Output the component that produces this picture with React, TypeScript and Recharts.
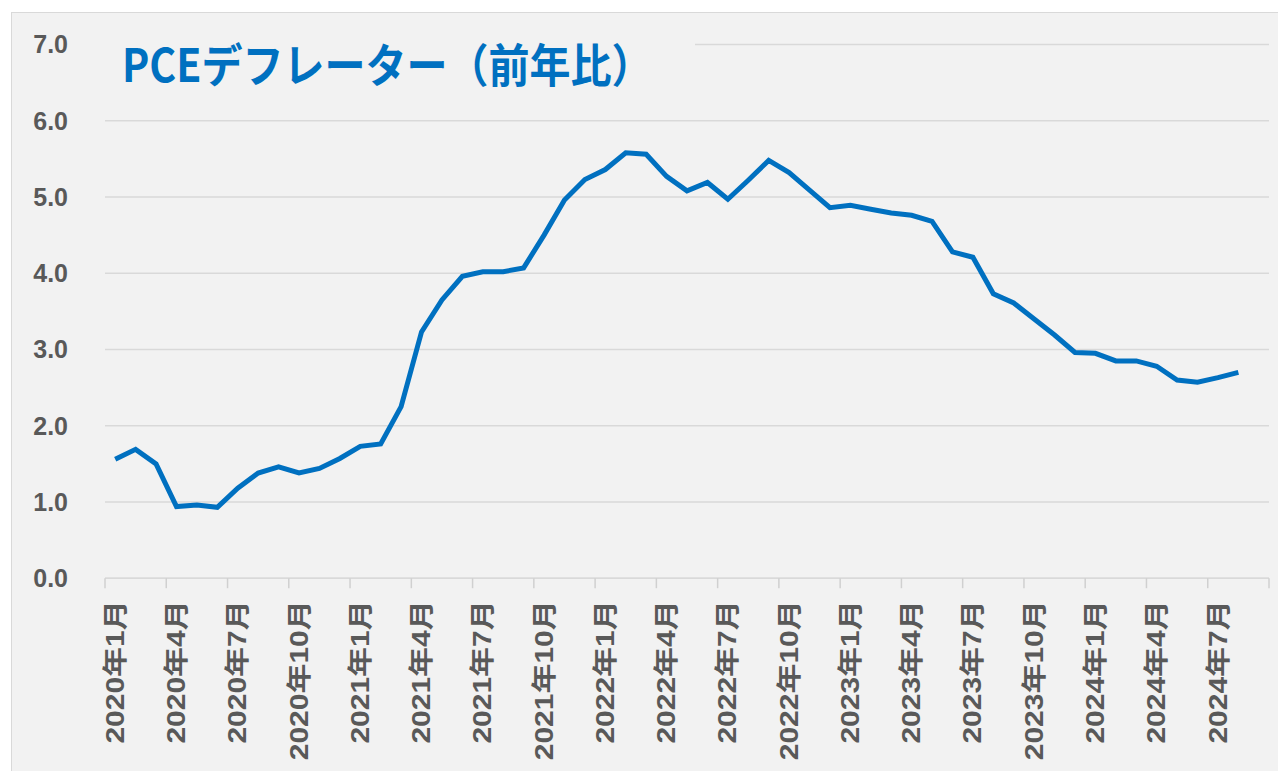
import React from "react";
import { LineChart, Line, XAxis, YAxis, CartesianGrid } from "recharts";

const months = [
  "2020年1月", "2020年2月", "2020年3月", "2020年4月", "2020年5月", "2020年6月",
  "2020年7月", "2020年8月", "2020年9月", "2020年10月", "2020年11月", "2020年12月",
  "2021年1月", "2021年2月", "2021年3月", "2021年4月", "2021年5月", "2021年6月",
  "2021年7月", "2021年8月", "2021年9月", "2021年10月", "2021年11月", "2021年12月",
  "2022年1月", "2022年2月", "2022年3月", "2022年4月", "2022年5月", "2022年6月",
  "2022年7月", "2022年8月", "2022年9月", "2022年10月", "2022年11月", "2022年12月",
  "2023年1月", "2023年2月", "2023年3月", "2023年4月", "2023年5月", "2023年6月",
  "2023年7月", "2023年8月", "2023年9月", "2023年10月", "2023年11月", "2023年12月",
  "2024年1月", "2024年2月", "2024年3月", "2024年4月", "2024年5月", "2024年6月",
  "2024年7月", "2024年8月", "2024年9月",
];

const pceYoY: (number | null)[] = [
  1.56, 1.69, 1.50, 0.94, 0.96, 0.93, 1.18, 1.38, 1.46, 1.38, 1.44, 1.57,
  1.73, 1.76, 2.25, 3.23, 3.65, 3.96, 4.02, 4.02, 4.07, 4.50, 4.96, 5.23,
  5.36, 5.58, 5.56, 5.27, 5.08, 5.19, 4.97, 5.22, 5.48, 5.32, 5.09, 4.86,
  4.89, 4.84, 4.79, 4.76, 4.68, 4.28, 4.21, 3.73, 3.61, 3.40, 3.19, 2.96,
  2.95, 2.85, 2.85, 2.78, 2.60, 2.57, 2.63, 2.70, null,
];

const yTicks = [0, 1, 2, 3, 4, 5, 6, 7];
const boundaryTicks = [0, 3, 6, 9, 12, 15, 18, 21, 24, 27, 30, 33, 36, 39, 42, 45, 48, 51, 54, 57];
const titleText = "PCEデフレーター（前年比）";

const data = months.map((m, i) => ({ x: i + 0.5, month: m, value: pceYoY[i] }));

const FONT = '"Liberation Sans", "Noto Sans CJK JP", sans-serif';

const MonthTick = (props: any) => {
  const { x, y, payload, width } = props;
  const idx = Math.round(payload.value);
  const halfBand = width / months.length / 2;
  const label = idx < months.length ? months[idx] : null;
  return (
    <g>
      <line x1={x} x2={x} y1={y} y2={y + 10} stroke="#d0d0d0" strokeWidth={1.5} />
      {label && (
        <text
          transform={`translate(${x + halfBand},${y + 22}) rotate(-90) scale(1.2,1)`}
          textAnchor="end"
          dominantBaseline="central"
          fontSize={25}
          fontWeight={700}
          fill="#595959"
          fontFamily={FONT}
        >
          {label}
        </text>
      )}
    </g>
  );
};

export default function App() {
  return (
    <div
      style={{
        position: "relative",
        marginLeft: 3,
        marginTop: 4,
        width: 1290,
        height: 770,
        background: "#f2f2f2",
        border: "1px solid #d9d9d9",
        boxSizing: "border-box",
        fontFamily: FONT,
      }}
    >
      <LineChart
        width={1276}
        height={760}
        data={data}
        margin={{ top: 31.5, right: 19, left: 0, bottom: 14.8 }}
      >
        <CartesianGrid horizontal vertical={false} stroke="#d9d9d9" strokeWidth={1.5} />
        <XAxis
          type="number"
          dataKey="x"
          domain={[0, 57]}
          ticks={boundaryTicks}
          tick={<MonthTick />}
          tickLine={false}
          tickSize={0}
          tickMargin={0}
          axisLine={{ stroke: "#d9d9d9", strokeWidth: 1.5 }}
          height={180}
          interval={0}
          allowDataOverflow
        />
        <YAxis
          type="number"
          domain={[0, 7]}
          ticks={yTicks}
          width={93}
          axisLine={false}
          tickLine={false}
          tickSize={0}
          tickMargin={37}
          tickFormatter={(v: number) => v.toFixed(1)}
          tick={{ fontSize: 25, fontWeight: 700, fill: "#595959", fontFamily: FONT }}
        />
        <Line
          type="linear"
          dataKey="value"
          stroke="#0070c0"
          strokeWidth={5}
          dot={false}
          activeDot={false}
          isAnimationActive={false}
          connectNulls={false}
        />
      </LineChart>
      <div
        style={{
          position: "absolute",
          left: 93,
          top: 17,
          width: 590,
          height: 64,
          background: "#f2f2f2",
          color: "#0070c0",
          fontFamily: '"Noto Sans CJK JP", sans-serif',
          fontWeight: 700,
          fontSize: 41,
          lineHeight: "64px",
          paddingLeft: 17,
          boxSizing: "border-box",
          whiteSpace: "nowrap",
        }}
      >
        <span style={{ display: "inline-block", transform: "scale(1.0,1.12)", transformOrigin: "left center" }}>
          {titleText}
        </span>
      </div>
    </div>
  );
}
